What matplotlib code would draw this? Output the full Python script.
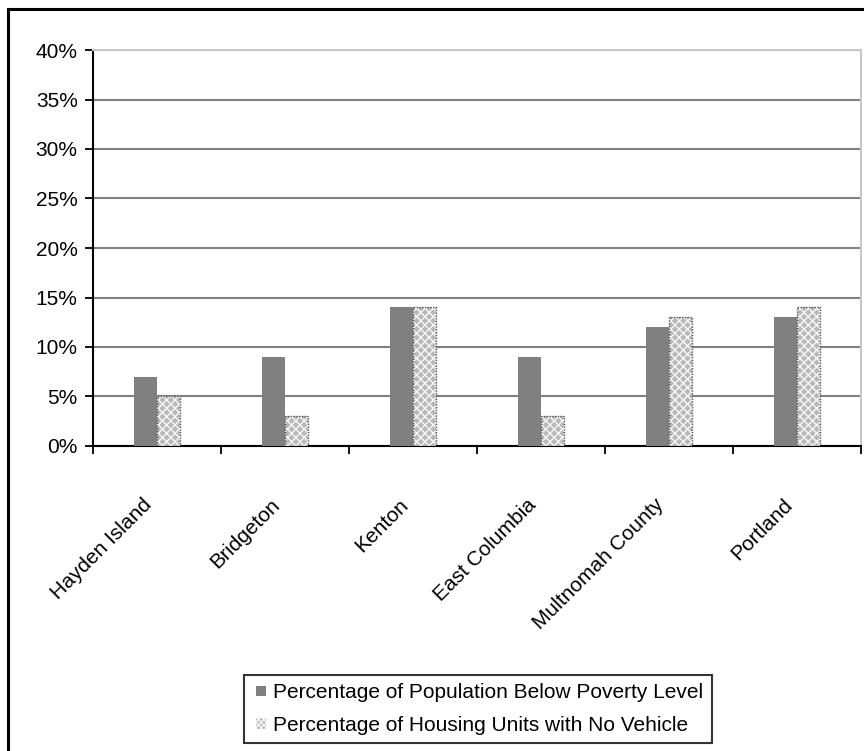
import matplotlib
matplotlib.use("Agg")
import matplotlib.pyplot as plt
import numpy as np
from matplotlib.patches import Rectangle, Patch
from matplotlib.legend_handler import HandlerPatch
from matplotlib.ticker import FuncFormatter, MultipleLocator

plt.rcParams['font.family'] = ['Liberation Sans', 'DejaVu Sans']

categories = ["Hayden Island", "Bridgeton", "Kenton", "East Columbia",
              "Multnomah County", "Portland"]
poverty = [7, 9, 14, 9, 12, 13]
no_vehicle = [5, 3, 14, 3, 13, 14]
series_names = ["Percentage of Population Below Poverty Level",
                "Percentage of Housing Units with No Vehicle"]

fig = plt.figure(figsize=(8.64, 7.51), dpi=100)
ax = fig.add_axes([93 / 864, 1 - 446 / 751, 768 / 864, 396 / 751])

x = np.arange(len(categories))
w = 0.18

ax.bar(x - w / 2, poverty, width=w, color="#808080", linewidth=0, zorder=3)
# patterned series: hatch fill, then a dotted outline on top
ax.bar(x + w / 2, no_vehicle, width=w, facecolor="#b8b8b8", edgecolor="#f6f6f6",
       hatch="xxxx", linewidth=0, zorder=3)
ax.bar(x + w / 2, no_vehicle, width=w, fill=False, edgecolor="#555555",
       linestyle=(0, (1, 1)), linewidth=1.0, zorder=4)

ax.set_xlim(-0.5, len(categories) - 0.5)
ax.set_ylim(0, 40)
ax.yaxis.set_major_locator(MultipleLocator(5))
ax.yaxis.set_major_formatter(FuncFormatter(lambda v, p: f"{int(v)}%"))
ax.grid(axis="y", color="#808080", linewidth=1.5, zorder=0)

# category boundaries carry the tick marks; labels sit on the category centres
ax.set_xticks(np.arange(len(categories) + 1) - 0.5)
ax.set_xticklabels([])
ax.set_xticks(x - 0.06, minor=True)
ax.set_xticklabels(categories, minor=True, rotation=45, ha="right", va="center",
                   rotation_mode="anchor", fontsize=15)
ax.tick_params(axis="x", which="minor", length=0, pad=40)
ax.tick_params(axis="x", which="major", length=6, width=1.3, direction="out")
ax.tick_params(axis="y", length=6, width=1.3, direction="out", labelsize=15, pad=5)

for side in ("left", "bottom"):
    ax.spines[side].set_color("black")
    ax.spines[side].set_linewidth(1.5)
for side in ("top", "right"):
    ax.spines[side].set_color("#c8c8c8")
    ax.spines[side].set_linewidth(1.5)
    ax.spines[side].set_linestyle((0, (1, 1)))


class SquareHandler(HandlerPatch):
    def create_artists(self, legend, orig_handle, xdescent, ydescent,
                       width, height, fontsize, trans):
        s = height * 0.72
        r = Rectangle((width - s, -ydescent + (height - s) / 2), s, s,
                      facecolor=orig_handle.get_facecolor(),
                      edgecolor=orig_handle.get_edgecolor(),
                      hatch=orig_handle.get_hatch(), linewidth=0,
                      transform=trans)
        return [r]


h1 = Patch(facecolor="#808080", edgecolor="#808080")
h2 = Patch(facecolor="#b8b8b8", edgecolor="#f6f6f6", hatch="xxxxxx")
leg = fig.legend([h1, h2], series_names, loc="center",
                 bbox_to_anchor=(478 / 864, 1 - 709 / 751),
                 handler_map={Patch: SquareHandler()},
                 handlelength=0.65, handletextpad=0.35, labelspacing=0.65,
                 fontsize=15, frameon=True, fancybox=False, borderpad=0.4,
                 borderaxespad=0)
leg.get_frame().set_edgecolor("black")
leg.get_frame().set_linewidth(1.5)

# outer chart frame
fig.patches.append(Rectangle((8 / 864, -0.05), 1.1, 1 - 9 / 751 + 0.05,
                             transform=fig.transFigure, fill=False,
                             edgecolor="black", linewidth=2.2, zorder=10))

fig.savefig("out.png", dpi=100)
